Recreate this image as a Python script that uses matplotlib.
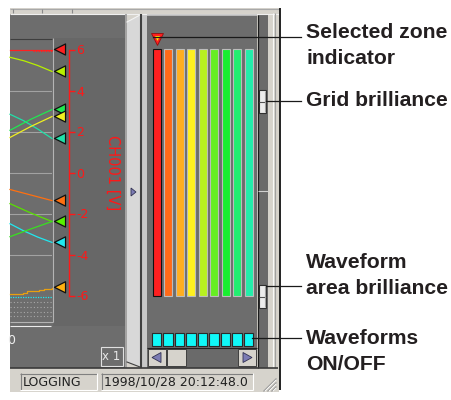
import matplotlib
matplotlib.use('Agg')
import matplotlib.pyplot as plt
from matplotlib.patches import Rectangle, Polygon

plt.rcParams['font.family'] = ['DejaVu Sans']
plt.rcParams['axes.unicode_minus'] = False

W, H = 451, 400

# ---- data ----
scale_ticks = [-6, -4, -2, 0, 2, 4, 6]
axis_label = 'CH001 [V]'

# waveform traces: time 0..10 across the visible window, volts
red_t = [0, 10]
red_v = [6.0, 6.0]
red_noise_t = [5.5, 10]
red_noise_v = [5.92, 5.92]
ygreen_t = [0, 3.3, 6.6, 10]
ygreen_v = [5.62, 5.45, 5.22, 4.93]
teal_t = [0, 3.3, 6.6, 10]
teal_v = [2.84, 2.52, 2.12, 1.66]
green_t = [0, 5, 10]
green_v = [2.06, 2.6, 3.07]
yellow_t = [0, 5, 10]
yellow_v = [1.71, 2.25, 2.73]
orange_t = [0, 5, 10]
orange_v = [-0.83, -1.1, -1.37]
lime_t = [0, 5, 10]
lime_v = [-1.52, -1.98, -2.39]
cyan_t = [0, 3.3, 6.6, 10]
cyan_v = [-2.5, -2.85, -3.15, -3.41]
green2_t = [0, 5, 10]
green2_v = [-3.13, -2.75, -2.39]
amber_t = [0, 3, 4, 7, 8, 10]
amber_v = [-5.93, -5.88, -5.8, -5.75, -5.68, -5.63]
cyan_dot_t = [0, 10]
cyan_dot_v = [-6.07, -6.07]
gray_dot_v = [-6.3, -6.55, -6.8, -7.0]

marker_levels = [6.0, 4.93, 3.07, 2.73, 1.66, -1.37, -2.39, -3.41, -5.6]
marker_colors = ['#ff2020', '#b8f000', '#20e850', '#f0f020', '#20e0a8',
                 '#ff7010', '#58f000', '#20e8f0', '#ffb010']

zone_colors = ['#ff2020', '#ff6a18', '#ffae20', '#fff020', '#b8f020',
               '#66ee22', '#18ee30', '#22ee70', '#22eeaa']
zone_lower = [0] * 9
zone_upper = [100] * 9
selected_zone = 0
wave_on = [1] * 9

status_mode = 'LOGGING'
status_time = '1998/10/28 20:12:48.0'
zoom_text = 'x 1'

callout_text = ['Selected zone', 'indicator', 'Grid brilliance', 'Waveform',
                'area brilliance', 'Waveforms', 'ON/OFF']
callout_y = [33, 59, 101, 262, 288, 338, 364]

PANEL = '#6d6d6d'
LIGHT = '#d6d3cc'
RED = '#ff1818'

fig = plt.figure(figsize=(W / 100, H / 100), dpi=100)


def px_axes(x0, y0, x1, y1, z=1):
    return fig.add_axes([x0 / W, 1 - y1 / H, (x1 - x0) / W, (y1 - y0) / H], zorder=z)


# ---- window chrome in pixel coordinates ----
bg = px_axes(0, 0, W, H, z=0)
bg.set_xlim(0, W)
bg.set_ylim(H, 0)
bg.axis('off')

def box(x0, y0, x1, y1, **kw):
    bg.add_patch(Rectangle((x0, y0), x1 - x0, y1 - y0, **kw))

def hline(y, x0, x1, c, lw=0.8):
    bg.plot([x0, x1], [y, y], color=c, lw=lw, solid_capstyle='butt')

def vline(x, y0, y1, c, lw=0.8):
    bg.plot([x, x], [y0, y1], color=c, lw=lw, solid_capstyle='butt')

# toolbar strip + status bar + right frame
box(10, 8, 279, 392, color=LIGHT, lw=0)
hline(8.5, 10, 279, '#a8a8a8')
for sx in [13, 42, 72]:
    vline(sx, 9, 13, '#8a8a8a')
hline(13.5, 10, 279, '#f0f0f0')

# left waveform panel
box(10, 14, 125, 368, color=PANEL, lw=0)
box(53, 38, 125, 326, color='#676767', lw=0)
hline(38.5, 10, 52, '#3e3e3e')
vline(52.5, 38, 322, '#b4b4b4')
hline(322, 10, 52.5, '#b4b4b4')
hline(325.5, 10, 51, '#ececec')
bg.text(15, 340, '0', color='#eeeeee', fontsize=9, ha='right', va='center')
box(100.5, 346.5, 122.5, 365.5, fill=False, ec='#e0e0e0', lw=0.8)
bg.text(111.5, 356, zoom_text, color='#e8e8e8', fontsize=8.5, ha='center', va='center')

# splitter
vline(126, 14, 368, '#9a9a9a', lw=1.2)
bg.add_patch(Polygon([(127, 22), (140, 15), (140, 367), (127, 362)],
                     closed=True, fc='#d8d8d8', ec='none'))
bg.plot([127, 140], [362, 367], color='#404040', lw=0.8)
bg.plot([127, 140], [22, 15], color='#f4f4f4', lw=0.8)
vline(141, 14, 368, '#404040', lw=1.5)
box(142, 14, 147, 368, color='#c8c8c8', lw=0)
bg.add_patch(Polygon([(131, 188), (131, 196), (136, 192)], closed=True,
                     fc='#7c7cb4', ec='#303050', lw=0.6))

# right panel
box(147, 15, 257, 368, color=PANEL, lw=0)
hline(15, 147, 257, '#c8c8c8', lw=1.2)
vline(257.5, 15, 368, '#1c1c1c', lw=0.9)
box(258, 15, 268, 368, color='#6a6a6a', lw=0)
hline(191, 258, 268, '#d0d0d0')
box(268, 13, 278, 368, color=LIGHT, lw=0)
vline(272.5, 13, 368, '#f8f8f8')
vline(274.5, 13, 368, '#a0a0a0')
vline(279.5, 8, 390, '#101010', lw=1.3)
hline(368, 10, 278, '#3a3a3a', lw=1.2)

# brilliance slider thumbs
for ty in [90, 285]:
    box(258.5, ty, 266, ty + 23, fc='#ececec', ec='#303030', lw=0.8)
    hline(ty + 11.5, 258.5, 266, '#505050')
    vline(264.5, ty + 1, ty + 22, '#a0a0a0')

# horizontal scrollbar under the switches
hline(347.5, 147, 257, '#202020')
box(148, 348, 256, 367, color='#6a6a6a', lw=0)
for x0, x1 in [(148, 166), (167, 186), (238, 256)]:
    box(x0, 349, x1, 366, fc=LIGHT, ec='#404040', lw=0.7)
bg.add_patch(Polygon([(152, 357.5), (161, 352.5), (161, 362.5)], closed=True,
                     fc='#7c7cb4', ec='#303050', lw=0.6))
bg.add_patch(Polygon([(252, 357.5), (243, 352.5), (243, 362.5)], closed=True,
                     fc='#7c7cb4', ec='#303050', lw=0.6))

# status bar fields
for x0, x1 in [(20, 97), (101, 253)]:
    box(x0, 373, x1, 390, fc=LIGHT, ec='none')
    hline(373.5, x0, x1, '#808080')
    vline(x0 + 0.5, 373, 390, '#808080')
    hline(390, x0, x1, '#ffffff')
    vline(x1, 373, 390, '#ffffff')
bg.text(23, 382, status_mode, fontsize=9, color='#202020', va='center')
bg.text(104, 382, status_time, fontsize=9, color='#202020', va='center')
for k in [0, 4, 8]:
    bg.plot([264 + k, 276], [391, 379 + k], color='#909090', lw=0.9)
    bg.plot([265 + k, 276], [391, 380 + k], color='#ffffff', lw=0.6)

# ---- waveform area with the CH001 scale ----
at = px_axes(10, 49.5, 52, 295.5, z=2)
at.set_xlim(0, 10)
at.set_ylim(-6, 6)
at.patch.set_visible(False)
for s in ['left', 'top', 'bottom']:
    at.spines[s].set_visible(False)
at.spines['right'].set_position(('data', 14.05))
at.spines['right'].set_color(RED)
at.spines['right'].set_linewidth(1.0)
at.yaxis.tick_right()
at.set_yticks(scale_ticks)
at.set_xticks([])
at.tick_params(axis='y', direction='out', length=4, width=1.0, colors=RED,
               labelsize=9, pad=1.0)
at.grid(axis='y', color='#a2a2a2', lw=0.8)

traces = [
    (red_t, red_v, '#ff2020', '-'),
    (red_noise_t, red_noise_v, '#ff2020', (0, (1, 1))),
    (ygreen_t, ygreen_v, '#b8f000', '-'),
    (teal_t, teal_v, '#20e0a8', '-'),
    (green_t, green_v, '#20e850', '-'),
    (yellow_t, yellow_v, '#f0f020', '-'),
    (orange_t, orange_v, '#ff7010', '-'),
    (lime_t, lime_v, '#58e000', '-'),
    (cyan_t, cyan_v, '#20e8f0', '-'),
    (green2_t, green2_v, '#38e020', '-'),
    (cyan_dot_t, cyan_dot_v, '#20e8f0', (0, (1, 1))),
]
for t, v, c, ls in traces:
    at.plot(t, v, color=c, ls=ls, lw=0.9, clip_on=False)
at.step(amber_t, amber_v, where='post', color='#e8a010', lw=0.9, clip_on=False)
for gv in gray_dot_v:
    at.plot([0, 10], [gv, gv], color='#a8a8a8', ls=(0, (1, 2)), lw=0.8, clip_on=False)

at.scatter([11.9] * len(marker_levels), marker_levels, marker='<', s=64,
           c=marker_colors, edgecolors='#101010', linewidths=0.9, clip_on=False, zorder=5)
at.text(24.5, 0, axis_label, rotation=270, color=RED, fontsize=10.5,
        ha='center', va='center', clip_on=False)

# ---- zone bars ----
ab = px_axes(147, 49, 257, 296, z=3)
ab.set_xlim(-0.84, 8.72)
ab.set_ylim(0, 100)
ab.axis('off')
idx = list(range(len(zone_colors)))
edges = ['#101010' if i == selected_zone else '#bcbcbc' for i in idx]
ab.bar(idx, [u - l for u, l in zip(zone_upper, zone_lower)], bottom=zone_lower,
       width=0.7, color=zone_colors, edgecolor=edges, lw=0.8, clip_on=False)
ab.plot(selected_zone, 104, marker='v', ms=8, mfc='#ff2020', mec='#901010',
        mew=0.6, clip_on=False, zorder=6)
ab.plot(selected_zone, 104.3, marker='v', ms=3.5, mfc='#ffee00', mec='none',
        clip_on=False, zorder=7)

# ---- waveform ON/OFF switches ----
asw = px_axes(147, 333, 257, 346, z=3)
asw.set_xlim(-0.84, 8.72)
asw.set_ylim(0, 1)
asw.axis('off')
asw.bar(idx, wave_on, width=0.82, color='#10f8f8', edgecolor='#2a2a2a', lw=0.8,
        clip_on=False)

# ---- callouts ----
top = px_axes(0, 0, W, H, z=10)
top.set_xlim(0, W)
top.set_ylim(H, 0)
top.axis('off')
top.patch.set_visible(False)
for x0, y in [(153, 37), (266, 101), (266, 286), (252, 338)]:
    top.plot([x0, 301], [y, y], color='#1a1a1a', lw=0.9)
for txt, y in zip(callout_text, callout_y):
    top.text(306, y, txt, fontsize=15.2, fontweight='bold', family='Liberation Sans',
             color='#231f20', ha='left', va='center')

fig.savefig('out.png', dpi=100)
